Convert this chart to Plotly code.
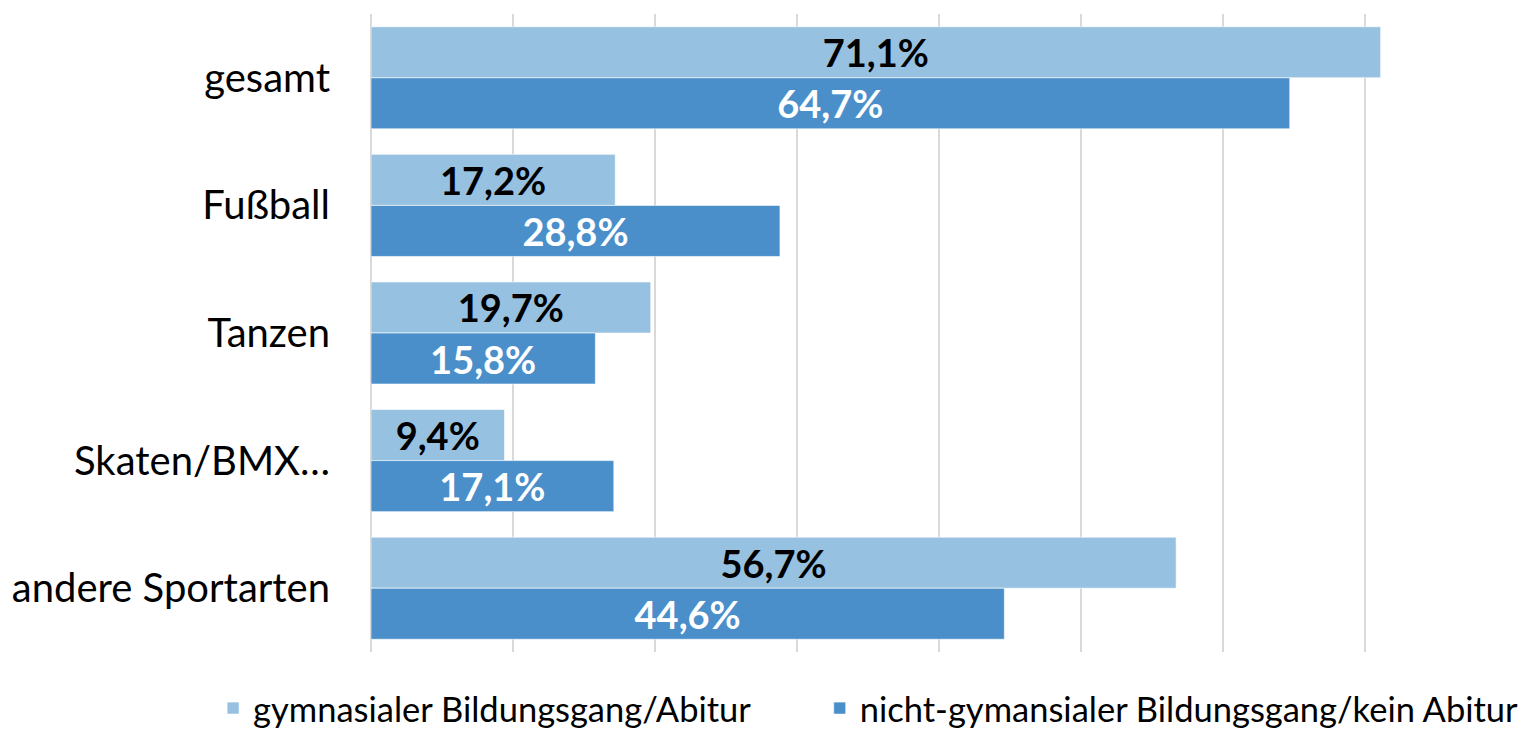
import plotly.graph_objects as go

categories = ["gesamt", "Fußball", "Tanzen", "Skaten/BMX…", "andere Sportarten"]
series_names = ["gymnasialer Bildungsgang/Abitur", "nicht-gymansialer Bildungsgang/kein Abitur"]
gym_values = [71.1, 17.2, 19.7, 9.4, 56.7]
nongym_values = [64.7, 28.8, 15.8, 17.1, 44.6]
colors = ["#97C1E1", "#4A8FCA"]
text_colors = ["#000000", "#FFFFFF"]
legend_ids = ["legend", "legend2"]

FONT = "Lato"

fig = go.Figure()
for name, vals, col, tcol, lg in zip(series_names, [gym_values, nongym_values], colors, text_colors, legend_ids):
    fig.add_trace(go.Bar(
        y=categories, x=vals, name=name, orientation="h", legend=lg,
        marker=dict(color=col, line=dict(color="rgba(255,255,255,0.6)", width=1)),
        texttemplate="%{x:.1f}%", textposition="inside", insidetextanchor="middle",
        constraintext="none",
        textfont=dict(family=FONT, size=38, color=tcol, weight="bold"),
        hoverinfo="skip",
    ))

# page body has an 8px default margin; figure is sized/offset to compensate
leg_common = dict(orientation="h", yanchor="bottom", y=-0.1335, xanchor="left",
                  font=dict(family=FONT, size=34.5, color="#000000"),
                  bgcolor="rgba(0,0,0,0)")
fig.update_layout(
    width=1518, height=724,
    margin=dict(l=363, r=19, t=6, b=80, autoexpand=False),
    barmode="group", bargap=0.2, bargroupgap=0,
    separators=",.",
    plot_bgcolor="white", paper_bgcolor="white",
    font=dict(family=FONT, color="#000000"),
    showlegend=True,
    legend=dict(x=-0.139, **leg_common),
    legend2=dict(x=0.395, **leg_common),
)
fig.update_xaxes(range=[0, 80], dtick=10, showticklabels=False, showgrid=True,
                 gridcolor="#D9D9D9", gridwidth=2, zeroline=True, zerolinecolor="#D9D9D9",
                 zerolinewidth=2, showline=False, fixedrange=True, automargin=False)
fig.update_yaxes(autorange="reversed", showgrid=False, showline=False, ticks="",
                 ticklabelstandoff=40, tickfont=dict(family=FONT, size=40, color="#000000"),
                 fixedrange=True, automargin=False)

fig.write_html("out.html")
